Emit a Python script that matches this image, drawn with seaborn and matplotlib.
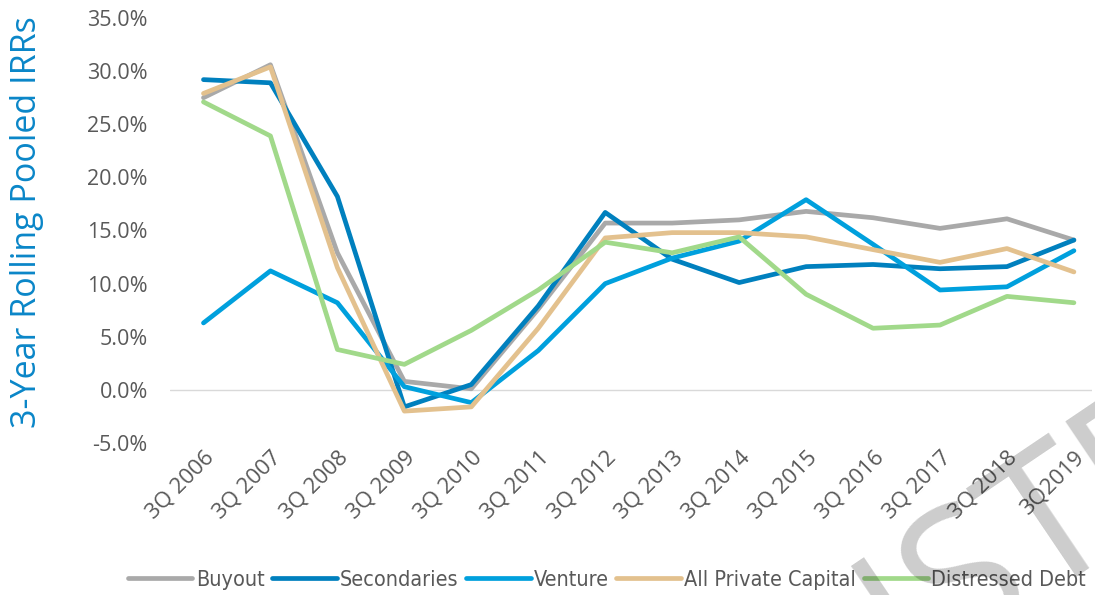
import matplotlib
matplotlib.use("Agg")
import matplotlib.pyplot as plt
import seaborn as sns
import pandas as pd
from matplotlib.ticker import FuncFormatter

quarters = ["3Q 2006", "3Q 2007", "3Q 2008", "3Q 2009", "3Q 2010", "3Q 2011", "3Q 2012",
            "3Q 2013", "3Q 2014", "3Q 2015", "3Q 2016", "3Q 2017", "3Q 2018", "3Q2019"]
buyout = [27.5, 30.6, 12.9, 0.8, 0.1, 7.6, 15.7, 15.7, 16.0, 16.8, 16.2, 15.2, 16.1, 14.1]
secondaries = [29.2, 28.9, 18.2, -1.6, 0.5, 7.9, 16.7, 12.3, 10.1, 11.6, 11.8, 11.4, 11.6, 14.1]
venture = [6.3, 11.2, 8.2, 0.3, -1.2, 3.7, 10.0, 12.4, 14.0, 17.9, 13.7, 9.4, 9.7, 13.1]
all_private = [27.9, 30.4, 11.5, -2.0, -1.6, 5.8, 14.3, 14.8, 14.8, 14.4, 13.2, 12.0, 13.3, 11.1]
distressed = [27.1, 23.9, 3.8, 2.4, 5.6, 9.4, 13.9, 12.9, 14.4, 9.0, 5.8, 6.1, 8.8, 8.2]

series_names = ["Buyout", "Secondaries", "Venture", "All Private Capital", "Distressed Debt"]
colors = ["#A9A9A9", "#0080BE", "#00A0DD", "#E3C18E", "#A1D98A"]

df = pd.concat([
    pd.DataFrame({"Quarter": quarters, "IRR": vals, "Series": name})
    for name, vals in zip(series_names, [buyout, secondaries, venture, all_private, distressed])
])

sns.set_style("white")
plt.rcParams['font.family'] = ['Open Sans', 'DejaVu Sans']

fig = plt.figure(figsize=(10.95, 5.95), dpi=100)
ax = fig.add_axes([170/1095, 1 - 443/595, (1092-170)/1095, (443-18)/595])

sns.lineplot(data=df, x="Quarter", y="IRR", hue="Series", hue_order=series_names,
             palette=colors, linewidth=3.4, sort=False, ax=ax, legend=True)

ax.set_ylim(-5, 35)
ax.set_xlim(-0.5, 13.27)
ax.set_yticks(range(-5, 36, 5))
ax.yaxis.set_major_formatter(FuncFormatter(lambda v, p: f"{v:.1f}%"))
ax.axhline(0, color="#D9D9D9", linewidth=1, zorder=0)
for s in ax.spines.values():
    s.set_visible(False)
ax.tick_params(axis='both', length=0, colors="#595959")
ax.tick_params(axis='y', pad=16, labelsize=15.5)
ax.set_xticks(range(len(quarters)))
ax.set_xticklabels(quarters, rotation=45, ha='right', rotation_mode='anchor')
ax.tick_params(axis='x', pad=3, labelsize=16)
ax.set_xlabel("")
ax.set_ylabel("3-Year Rolling Pooled IRRs", color="#0A86C8", fontsize=24.5)
ax.yaxis.set_label_coords(-0.137, 0.52)

handles, labels = ax.get_legend_handles_labels()
ax.legend(handles, labels, loc='center', bbox_to_anchor=(607/1095, 1 - 580/595),
          bbox_transform=fig.transFigure, ncol=5, frameon=False,
          prop={'family': 'DejaVu Sans', 'stretch': 'condensed', 'size': 15.5},
          handlelength=3.0, handletextpad=0.15, columnspacing=0.35, labelcolor="#595959")

fig.text(797/1095, 1 - 753/595, "DISTRIBUTION", fontsize=135, rotation=34,
         rotation_mode='anchor', color="black", alpha=0.2, ha='left', va='baseline',
         family='Open Sans', zorder=10)

fig.savefig("out.png", dpi=100)
